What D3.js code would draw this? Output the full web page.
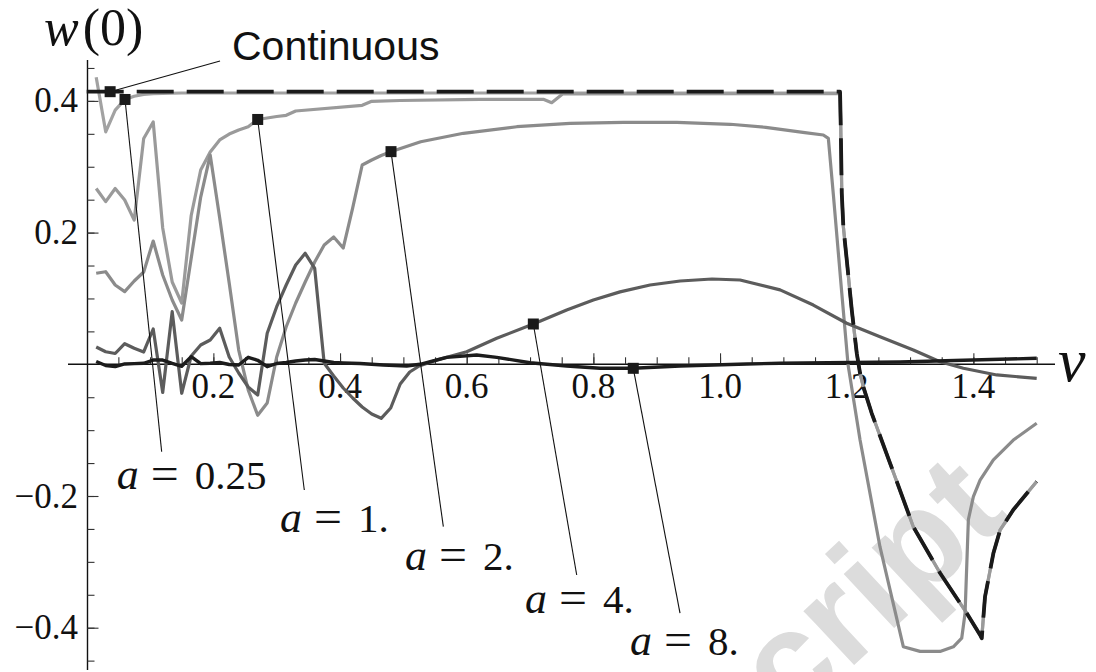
<!DOCTYPE html>
<html>
<head>
<meta charset="utf-8">
<script src="https://cdn.jsdelivr.net/npm/d3@7"></script>
<style>
  html, body { margin: 0; padding: 0; background: #fff; }
  svg { display: block; }
</style>
</head>
<body>
<svg id="chart" width="1096" height="672"></svg>
<script>
// ---- data: w(0) against v for several lattice spacings a, plus the continuum curve ----
const vContinuous = [0, 1.1895, 1.1906, 1.1922, 1.1947, 1.2001, 1.208, 1.2159, 1.2211, 1.2265, 1.2395, 1.2684, 1.3053, 1.3474, 1.3896, 1.4106, 1.4132, 1.4184, 1.4316, 1.4421, 1.4631, 1.5];
const wContinuous = [0.414, 0.414, 0.361, 0.26, 0.209, 0.1585, 0.0825, 0.0167, -0.0137, -0.035, -0.0744, -0.15, -0.247, -0.317, -0.378, -0.411, -0.416, -0.353, -0.287, -0.252, -0.221, -0.178];

const vA025 = [0.015, 0.03, 0.045, 0.06, 0.075, 0.09, 0.105, 0.15, 1.1895, 1.1906, 1.1922, 1.1947, 1.2001, 1.208, 1.2159, 1.2211, 1.2265, 1.2395, 1.2684, 1.3053, 1.3474, 1.3896, 1.4106, 1.4132, 1.4184, 1.4316, 1.4421, 1.4631, 1.5];
const wA025 = [0.436, 0.353, 0.386, 0.402, 0.407, 0.410, 0.411, 0.412, 0.412, 0.361, 0.26, 0.209, 0.1585, 0.0825, 0.0167, -0.0137, -0.035, -0.0744, -0.15, -0.247, -0.317, -0.378, -0.411, -0.416, -0.353, -0.287, -0.252, -0.221, -0.178];

const vA1 = [0.015, 0.03, 0.045, 0.06, 0.075, 0.09, 0.105, 0.12, 0.135, 0.15, 0.165, 0.18, 0.195, 0.21, 0.225, 0.24, 0.255, 0.27, 0.285, 0.3, 0.315, 0.33, 0.435, 0.45, 0.495, 0.621, 0.721, 0.7342, 0.7513, 1.1895, 1.1906, 1.1922, 1.1947, 1.2001, 1.208, 1.2159, 1.2211, 1.2265, 1.2395, 1.2684, 1.3053, 1.3474, 1.3896, 1.4106, 1.4132, 1.4184, 1.4316, 1.4421, 1.4631, 1.5];
const wA1 = [0.267, 0.247, 0.267, 0.2495, 0.219, 0.343, 0.368, 0.207, 0.125, 0.0931, 0.226, 0.295, 0.3224, 0.3407, 0.3497, 0.3558, 0.3608, 0.3718, 0.374, 0.3763, 0.3781, 0.3847, 0.3933, 0.3994, 0.4006, 0.4024, 0.4024, 0.3973, 0.4105, 0.411, 0.361, 0.26, 0.209, 0.1585, 0.0825, 0.0167, -0.0137, -0.035, -0.0744, -0.15, -0.247, -0.317, -0.378, -0.411, -0.416, -0.353, -0.287, -0.252, -0.221, -0.178];

const vA2 = [0.015, 0.03, 0.045, 0.06, 0.075, 0.09, 0.105, 0.12, 0.135, 0.15, 0.165, 0.18, 0.195, 0.21, 0.225, 0.24, 0.255, 0.27, 0.285, 0.3, 0.315, 0.33, 0.345, 0.36, 0.375, 0.39, 0.405, 0.42, 0.435, 0.45, 0.465, 0.48, 0.5274, 0.5948, 0.6791, 0.7632, 0.8476, 0.9318, 1.0161, 1.0722, 1.1339, 1.1631, 1.171, 1.179, 1.1922, 1.2022, 1.2211, 1.2526, 1.2894, 1.3158, 1.3474, 1.3684, 1.3816, 1.3869, 1.3921, 1.40, 1.4106, 1.4316, 1.4631, 1.5];
const wA2 = [0.1382, 0.1406, 0.1204, 0.1103, 0.1265, 0.1402, 0.1872, 0.1356, 0.0976, 0.0673, 0.161, 0.254, 0.3178, 0.222, 0.1235, 0.0217, -0.039, -0.0774, -0.0588, 0.0111, 0.057, 0.0931, 0.125, 0.1554, 0.1812, 0.1933, 0.1766, 0.2374, 0.3027, 0.3102, 0.3171, 0.3228, 0.338, 0.3508, 0.3608, 0.366, 0.3675, 0.3675, 0.3645, 0.3599, 0.3517, 0.3482, 0.3432, 0.257, 0.1083, -0.0011, -0.115, -0.2774, -0.4289, -0.436, -0.436, -0.429, -0.416, -0.378, -0.236, -0.201, -0.176, -0.145, -0.115, -0.0896];

const vA4 = [0.015, 0.03, 0.045, 0.06, 0.075, 0.09, 0.105, 0.12, 0.135, 0.15, 0.165, 0.18, 0.195, 0.21, 0.225, 0.24, 0.255, 0.27, 0.285, 0.3, 0.315, 0.33, 0.345, 0.36, 0.375, 0.39, 0.405, 0.42, 0.435, 0.45, 0.465, 0.48, 0.495, 0.51, 0.525, 0.5527, 0.6, 0.6474, 0.7052, 0.7579, 0.8, 0.8421, 0.8895, 0.937, 0.9874, 1.0316, 1.0948, 1.1473, 1.2, 1.2526, 1.3052, 1.3474, 1.3842, 1.4369, 1.5];
const wA4 = [0.0263, 0.0191, 0.0164, 0.0313, 0.0243, 0.0187, 0.0536, -0.0428, 0.0799, -0.044, 0.0126, 0.0293, 0.0369, 0.0547, 0.0111, -0.0132, -0.0345, -0.0466, 0.0471, 0.0875, 0.1204, 0.1508, 0.1686, 0.1458, 0.0015, -0.0178, -0.036, -0.0512, -0.0648, -0.0755, -0.082, -0.0664, -0.0299, -0.0117, -0.0026, 0.0065, 0.0191, 0.0395, 0.0612, 0.0825, 0.0976, 0.11, 0.1204, 0.1265, 0.1295, 0.128, 0.113, 0.09, 0.0623, 0.0419, 0.0217, 0.004, -0.006, -0.0162, -0.0213];

const vA8 = [0.015, 0.03, 0.045, 0.06, 0.075, 0.09, 0.105, 0.12, 0.135, 0.15, 0.165, 0.18, 0.195, 0.21, 0.225, 0.24, 0.255, 0.27, 0.285, 0.3, 0.315, 0.33, 0.345, 0.36, 0.375, 0.39, 0.405, 0.4316, 0.4683, 0.5053, 0.5263, 0.5527, 0.5685, 0.6158, 0.6474, 0.70, 0.7579, 0.8105, 0.8631, 0.9368, 1.0421, 1.0948, 1.2842, 1.5];
const wA8 = [0.0043, -0.0018, -0.0036, 0.0005, 0.001, 0.0015, 0.0065, 0.0065, 0.0015, -0.003, 0.0115, 0.001, 0.0015, 0.0027, -0.0003, -0.001, 0.0106, 0.0061, -0.0036, 0.0012, 0.0027, 0.005, 0.0065, 0.0073, 0.005, 0.0027, 0.002, 0.0012, -0.001, -0.0026, 0, 0.0065, 0.0106, 0.0141, 0.0106, 0.0024, -0.0026, -0.0061, -0.0061, -0.0026, 0.0005, 0.0015, 0.0035, 0.0091];

// callout labels and the v at which each callout is attached to its curve
const seriesNames = ["Continuous", "a = 0.25", "a = 1.", "a = 2.", "a = 4.", "a = 8."];
const calloutV = [0.037, 0.0605, 0.27, 0.4805, 0.7052, 0.863];

// axis ticks
const xTickValues = [0.2, 0.4, 0.6, 0.8, 1.0, 1.2, 1.4];
const xTickLabels = ["0.2", "0.4", "0.6", "0.8", "1.0", "1.2", "1.4"];
const yTickValues = [0.4, 0.2, -0.2, -0.4];
const yTickLabels = ["0.4", "0.2", "\u22120.2", "\u22120.4"];

// ---- layout ----
const svg = d3.select("#chart");
const x = d3.scaleLinear().domain([0, 1.5]).range([86.7, 1036.7]);
const y = d3.scaleLinear().domain([-0.4, 0.4]).range([627.7, 100.9]);
const serif = "'Liberation Serif', 'Times New Roman', serif";
const sans = "'Liberation Sans', Arial, Helvetica, sans-serif";

// faint diagonal stamp in the lower right, behind everything
svg.append("text")
  .attr("transform", "translate(1012,518) rotate(-43)")
  .attr("text-anchor", "end")
  .attr("font-family", sans)
  .attr("font-weight", "bold")
  .attr("font-size", 140)
  .attr("fill", "#dcdcdc")
  .text("cript");

// ---- axes ----
const axisG = svg.append("g");
const yMinor = d3.range(-9, 10).map(i => i * 0.05).filter(v => Math.abs(v) > 1e-9);
const xMinor = d3.range(1, 31).map(i => i * 0.05);

// vertical axis: line plus ticks pointing into the plot
axisG.append("line")
  .attr("x1", 87.5).attr("x2", 87.5).attr("y1", 60).attr("y2", 670)
  .attr("stroke", "#111").attr("stroke-width", 1.4);
const yAxisMinor = d3.axisRight(y).tickValues(yMinor).tickSize(7).tickFormat("");
const yAxisMajor = d3.axisRight(y).tickValues(yTickValues).tickSize(11).tickFormat("");
[yAxisMinor, yAxisMajor].forEach(ax => {
  const g = axisG.append("g").attr("transform", "translate(87.5,0)").call(ax);
  g.select(".domain").remove();
  g.selectAll(".tick line").attr("stroke", "#333").attr("stroke-width", 1.1);
});

// horizontal axis: line plus ticks pointing up
axisG.append("line")
  .attr("x1", 68).attr("x2", 1055).attr("y1", y(0)).attr("y2", y(0))
  .attr("stroke", "#111").attr("stroke-width", 1.4);
const xAxisMinor = d3.axisTop(x).tickValues(xMinor).tickSize(7).tickFormat("");
const xAxisMajor = d3.axisTop(x).tickValues(xTickValues).tickSize(11).tickFormat("");
[xAxisMinor, xAxisMajor].forEach(ax => {
  const g = axisG.append("g").attr("transform", `translate(0,${y(0)})`).call(ax);
  g.select(".domain").remove();
  g.selectAll(".tick line").attr("stroke", "#333").attr("stroke-width", 1.1);
});

// tick labels
axisG.selectAll("text.xlab").data(xTickValues).join("text")
  .attr("class", "xlab")
  .attr("x", d => x(d)).attr("y", y(0) + 34)
  .attr("text-anchor", "middle")
  .attr("font-family", serif).attr("font-size", 35).attr("fill", "#111")
  .text((d, i) => xTickLabels[i]);
axisG.selectAll("text.ylab").data(yTickValues).join("text")
  .attr("class", "ylab")
  .attr("x", 78).attr("y", d => y(d) + 11.5)
  .attr("text-anchor", "end")
  .attr("font-family", serif).attr("font-size", 35).attr("fill", "#111")
  .text((d, i) => yTickLabels[i]);

// axis titles
const wt = axisG.append("text").attr("x", 44).attr("y", 45)
  .attr("font-family", serif).attr("font-size", 52).attr("fill", "#111");
wt.append("tspan").attr("font-style", "italic").text("w");
wt.append("tspan").attr("dx", 4).text("(0)");
axisG.append("text").attr("x", 1058).attr("y", 381)
  .attr("font-family", serif).attr("font-style", "italic")
  .attr("font-size", 62).attr("fill", "#111").text("v");

// ---- curves ----
const zip = (vs, ws) => vs.map((v, i) => [v, ws[i]]);
const line = d3.line().x(d => x(d[0])).y(d => y(d[1]));
const series = [
  { key: "a025", pts: zip(vA025, wA025), color: "#a2a2a2", width: 3.2 },
  { key: "a1",   pts: zip(vA1, wA1),     color: "#9a9a9a", width: 3.2 },
  { key: "a2",   pts: zip(vA2, wA2),     color: "#8b8b8b", width: 3.2 },
  { key: "a4",   pts: zip(vA4, wA4),     color: "#5c5c5c", width: 3.2 },
  { key: "a8",   pts: zip(vA8, wA8),     color: "#1c1c1c", width: 3.4 }
];
const curveG = svg.append("g").attr("fill", "none")
  .attr("stroke-linejoin", "round").attr("stroke-linecap", "butt");
series.forEach(s => {
  curveG.append("path").attr("d", line(s.pts))
    .attr("stroke", s.color).attr("stroke-width", s.width);
});
const contPts = zip(vContinuous, wContinuous);
curveG.append("path").attr("d", line(contPts))
  .attr("stroke", "#1a1a1a").attr("stroke-width", 3.8)
  .attr("stroke-dasharray", "37,13");

// ---- callouts ----
function valueAt(pts, v) {
  for (let i = 1; i < pts.length; i++) {
    if (v <= pts[i][0]) {
      const [v0, w0] = pts[i - 1], [v1, w1] = pts[i];
      return w0 + (w1 - w0) * (v - v0) / (v1 - v0);
    }
  }
  return pts[pts.length - 1][1];
}
const calloutCurves = [contPts].concat(series.map(s => s.pts));
// where each leader line ends (data units) and where its text sits relative to that end (px)
const calloutLayout = [
  { end: [0.2105, 0.4606], dx: 12, dy: -1 },
  { end: [0.1184, -0.1327], dx: -45, dy: 37 },
  { end: [0.3436, -0.1909], dx: -24.3, dy: 41.7 },
  { end: [0.5631, -0.2466], dx: -38.3, dy: 43.3 },
  { end: [0.7737, -0.32], dx: -51.7, dy: 38.3 },
  { end: [0.9368, -0.378], dx: -50, dy: 41.7 }
];
const callG = svg.append("g");
seriesNames.forEach((name, i) => {
  const v = calloutV[i];
  const w = valueAt(calloutCurves[i], v);
  const L = calloutLayout[i];
  const ex = x(L.end[0]), ey = y(L.end[1]);
  callG.append("line")
    .attr("x1", x(v)).attr("y1", y(w)).attr("x2", ex).attr("y2", ey)
    .attr("stroke", "#111").attr("stroke-width", 1.1);
  callG.append("rect")
    .attr("x", x(v) - 5.5).attr("y", y(w) - 5.5)
    .attr("width", 11).attr("height", 11).attr("fill", "#1a1a1a");
  const tx = ex + L.dx, ty = ey + L.dy;
  if (i === 0) {
    callG.append("text").attr("x", tx).attr("y", ty)
      .attr("font-family", sans).attr("font-size", 41).attr("fill", "#111")
      .text(name);
  } else {
    const parts = name.split(" = ");
    const t = callG.append("text").attr("x", tx).attr("y", ty)
      .attr("font-family", serif).attr("font-size", 41).attr("fill", "#111");
    t.append("tspan").attr("font-style", "italic").attr("font-size", 44).text(parts[0]);
    t.append("tspan").attr("x", tx + 34).attr("font-size", 46)
      .attr("textLength", 28).attr("lengthAdjust", "spacingAndGlyphs").text("=");
    t.append("tspan").attr("x", tx + 78).text(parts[1]);
  }
});
</script>
</body>
</html>
